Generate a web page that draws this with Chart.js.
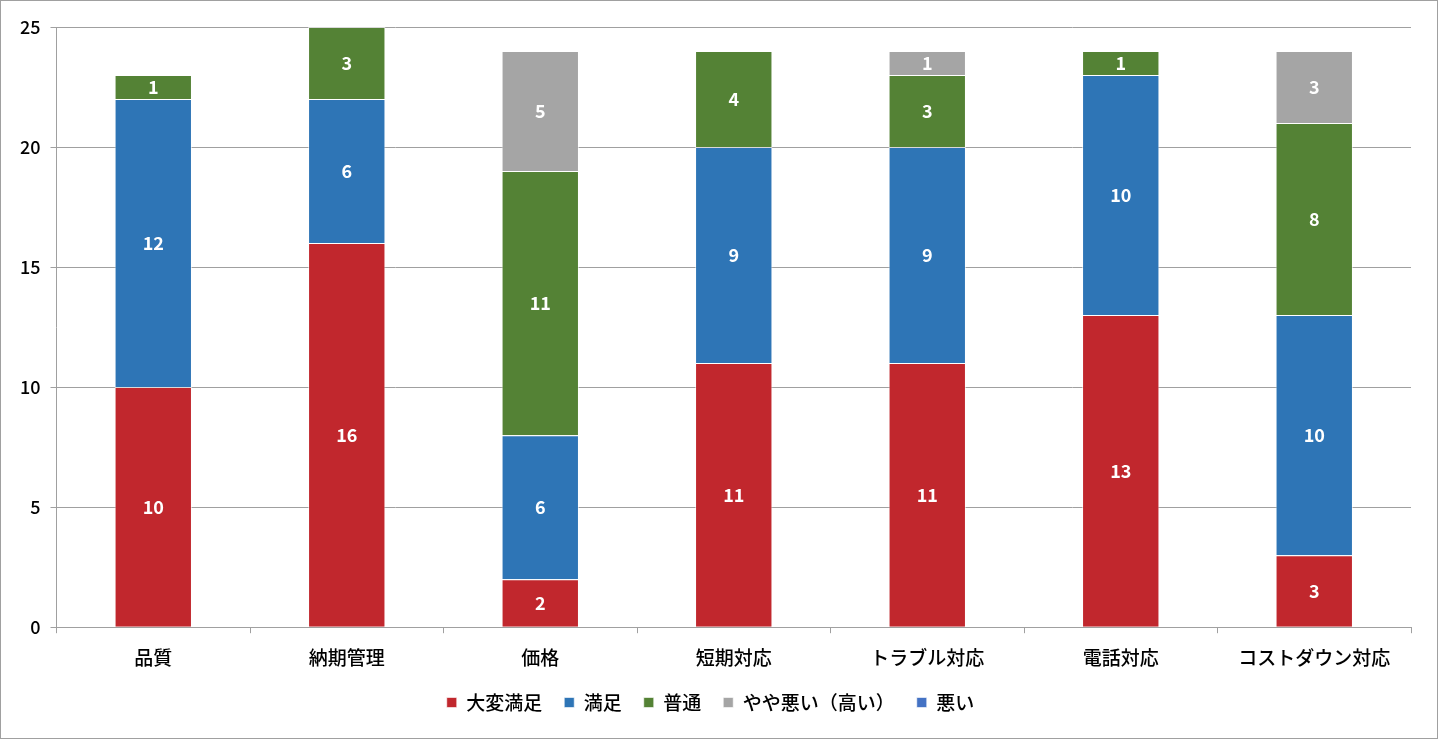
<!DOCTYPE html>
<html>
<head>
<meta charset="utf-8">
<script src="https://cdn.jsdelivr.net/npm/chart.js@4"></script>
<style>
  body { margin: 0; background: #fff; }
  #wrap { width: 1436px; height: 737px; border: 1px solid #a0a0a0; }
</style>
</head>
<body>
<div id="wrap"><canvas id="barChartCanvas" width="1436" height="737"></canvas></div>
<script>
const categories = ['品質', '納期管理', '価格', '短期対応', 'トラブル対応', '電話対応', 'コストダウン対応'];
const seriesNames = ['大変満足', '満足', '普通', 'やや悪い（高い）', '悪い'];
const veryGood = [10, 16, 2, 11, 11, 13, 3];
const good = [12, 6, 6, 9, 9, 10, 10];
const normal = [1, 3, 11, 4, 3, 1, 8];
const slightlyBad = [0, 0, 5, 0, 1, 0, 3];
const bad = [0, 0, 0, 0, 0, 0, 0];
const yTicks = [0, 5, 10, 15, 20, 25];

const colors = ['#C1272D', '#2E75B6', '#548235', '#A5A5A5', '#4472C4'];
const font = '"Noto Sans CJK JP", "Noto Sans", sans-serif';

// white numbers in the middle of each segment
const segmentLabels = {
    id: 'segmentLabels',
    afterDatasetsDraw(chart) {
        const ctx = chart.ctx;
        ctx.save();
        ctx.fillStyle = '#fff';
        ctx.font = '600 18px ' + font;
        ctx.textAlign = 'center';
        ctx.textBaseline = 'middle';
        chart.data.datasets.forEach((ds, i) => {
            const meta = chart.getDatasetMeta(i);
            meta.data.forEach((bar, j) => {
                const v = ds.data[j];
                if (!v) return;
                ctx.fillText(String(v), bar.x, (bar.y + bar.base) / 2);
            });
        });
        ctx.restore();
    }
};

let barChartData = {
    labels: categories,
    datasets: [veryGood, good, normal, slightlyBad, bad].map((d, i) => ({
        label: seriesNames[i],
        data: d,
        backgroundColor: colors[i],
        borderColor: 'rgba(255,255,255,0.6)',
        borderWidth: 1,
        barPercentage: 0.4,
        categoryPercentage: 1.0
    }))
};

let barChartDraw = function () {
    let ctx = document.getElementById('barChartCanvas').getContext('2d');
    window.barChart = new Chart(ctx, {
        type: 'bar',
        data: barChartData,
        plugins: [segmentLabels],
        options: {
            responsive: false,
            animation: false,
            layout: { padding: { top: 26, right: 26, left: 9, bottom: 16 } },
            plugins: {
                tooltip: { enabled: false },
                legend: {
                    position: 'bottom',
                    labels: {
                        boxWidth: 10,
                        boxHeight: 10,
                        padding: 22,
                        color: '#000',
                        font: { family: font, size: 19, weight: '500' }
                    }
                }
            },
            scales: {
                x: {
                    stacked: true,
                    afterFit(axis) { axis.height -= 11; },
                    grid: { offset: true, drawOnChartArea: false, drawTicks: true, tickLength: 6, color: '#a0a0a0' },
                    border: { color: '#a0a0a0' },
                    ticks: { color: '#000', font: { family: font, size: 19, weight: '500' }, padding: 13 }
                },
                y: {
                    stacked: true,
                    min: 0,
                    max: 25,
                    afterBuildTicks(axis) { axis.ticks = yTicks.map(v => ({ value: v })); },
                    grid: { color: '#a0a0a0', tickLength: 6 },
                    border: { color: '#a0a0a0' },
                    ticks: { color: '#000', font: { family: font, size: 18, weight: '500' }, padding: 10 }
                }
            }
        }
    });
};

window.onload = function () {
    barChartDraw();
};
</script>
</body>
</html>
